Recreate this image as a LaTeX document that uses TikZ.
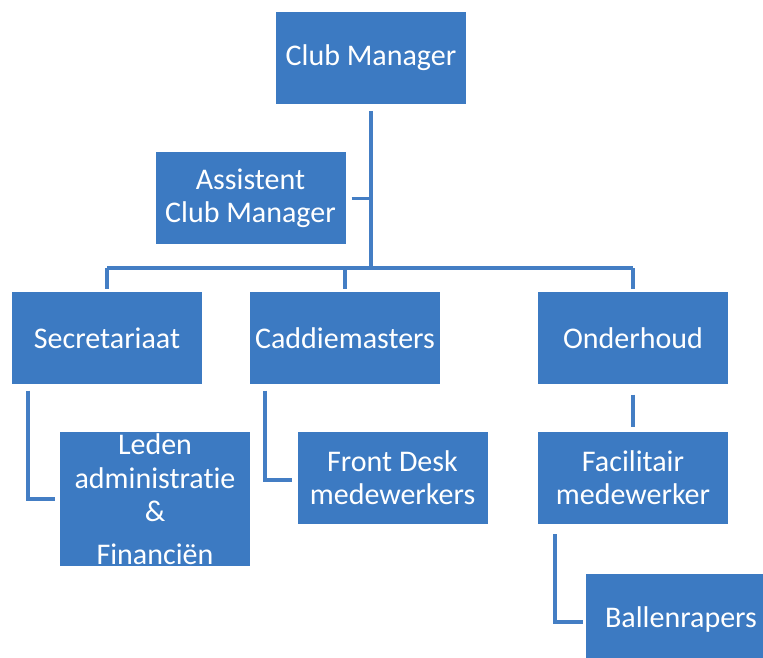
\documentclass[tikz,border=0pt]{standalone}
\usepackage{fontspec}
\setmainfont{Carlito}[Ligatures=NoCommon]
\usetikzlibrary{positioning}
\definecolor{boxblue}{RGB}{60,122,194}
\definecolor{lineblue}{RGB}{68,126,196}

\begin{document}
\begin{tikzpicture}[ x=1pt , y=1pt , node distance =100pt , on grid ,
  unit/.style={ fill=boxblue , text=white , minimum width=190pt , minimum height=92pt ,
    inner sep=2pt , align=center , font=\fontsize{30}{33}\selectfont },
  link/.style={ draw=lineblue , line width=3.5pt } ]
\useasboundingbox (0,0) rectangle (763,658);
\node [ unit ] (cm) at (371,600) {Club Manager};
\node [ unit ] (asst) at (250.5,459.5) {Assistent\\Club Manager};
\node [ unit ] (sec) at (107,319.5) {Secretariaat};
\node [ unit ] (cad) [ right = 238pt of sec ] {Caddiemasters};
\node [ unit ] (ond) [ right = 288pt of cad ] {Onderhoud};
\node [ unit , minimum height=134pt , font=\fontsize{30}{33.5}\selectfont ] (led) [ below right = 160.5pt and 48pt of sec ] {Leden\\administrat\kern0pt ie\\\&\\[9pt]Financiën};
\node [ unit ] (fd) [ below right = 139.5pt and 47.5pt of cad ] {Front Desk\\medewerkers};
\node [ unit ] (fac) [ below = 139.5pt of ond ] {Facilitair\\medewerker};
\node [ unit ] (bal) [ below right = 142pt and 48pt of fac ] {Ballenrapers};
% tree
\draw [ link ] ([yshift=-7pt]cm.south) -- ++(0,-157) coordinate (hub);
\draw [ link ] ([xshift=6pt]asst.east) -- (asst.east -| hub);
\draw [ link ] (sec.north |- hub) -- (ond.north |- hub);
\draw [ link ] (sec.north |- hub) -- ([yshift=3pt]sec.north);
\draw [ link ] (cad.north |- hub) -- ([yshift=3pt]cad.north);
\draw [ link ] (ond.north |- hub) -- ([yshift=3pt]ond.north);
% sub units
\draw [ link ] ([xshift=16pt,yshift=-6pt]sec.south west) |- ([xshift=-5pt]led.west);
\draw [ link ] ([xshift=15pt,yshift=-6pt]cad.south west) |- ([xshift=-5pt,yshift=-2pt]fd.west);
\draw [ link ] ([yshift=-10pt]ond.south) -- ([yshift=5pt]fac.north);
\draw [ link ] ([xshift=17pt,yshift=-10pt]fac.south west) |- ([xshift=-3pt,yshift=-2pt]bal.west);
\end{tikzpicture}
\end{document}
